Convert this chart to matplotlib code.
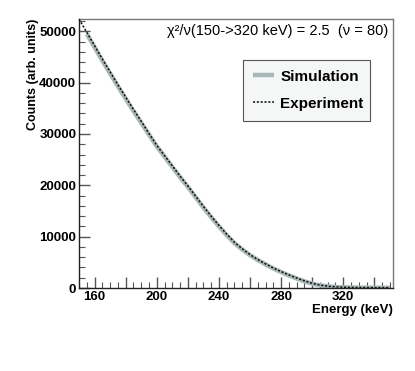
import matplotlib

matplotlib.use("Agg")

import matplotlib.pyplot as plt
from matplotlib.ticker import FuncFormatter, MultipleLocator

# values
ENERGY_EXP = [150, 155, 160, 165, 170, 175, 180, 185, 190, 195, 200, 205, 210, 215, 220,
              225, 230, 235, 240, 245, 250, 255, 260, 265, 270, 275, 280, 285, 290, 295,
              300, 305, 310, 315, 320, 325, 330, 335, 340, 345, 350]
COUNTS_EXP = [52400, 49800, 47200, 44600, 42100, 39600, 37200, 34800, 32500, 30100, 27800,
              25800, 23800, 21800, 19900, 17900, 15900, 14000, 12200, 10500, 8900, 7650, 6500,
              5550, 4700, 3900, 3200, 2550, 1950, 1400, 900, 580, 350, 230, 150, 120, 100, 90,
              80, 70, 60]
ENERGY_SIM = ENERGY_EXP[1:]
COUNTS_SIM = [49500, 46900, 44300, 41800, 39300, 36900, 34500, 32200, 29900, 27600,
              25600, 23600, 21600, 19700, 17700, 15700, 13800, 12000, 10300, 8750, 7500,
              6400, 5450, 4600, 3800, 3100, 2450, 1850, 1300, 850, 520, 320, 200, 130, 100,
              80, 70, 60, 50, 40]

X_LABELS = [160, 200, 240, 280, 320]

plt.rcParams["font.family"] = ["Liberation Sans", "DejaVu Sans"]

fig = plt.figure(figsize=(4.15, 3.71), dpi=100)
ax = fig.add_axes([0.1904, 0.2237, 0.7566, 0.7251])

ax.plot(ENERGY_SIM, COUNTS_SIM, color="#aab7b7", lw=3.2, solid_capstyle="butt",
        label="Simulation", zorder=2)
ax.plot(ENERGY_EXP, COUNTS_EXP, color="#111111", lw=1.1, ls=(0, (1.4, 1.1)),
        label="Experiment", zorder=3)

ax.set_xlim(150, 352)
ax.set_ylim(0, 52400)

ax.xaxis.set_major_locator(MultipleLocator(20))
ax.xaxis.set_minor_locator(MultipleLocator(5))
ax.xaxis.set_major_formatter(FuncFormatter(lambda v, p: f"{v:.0f}" if round(v) in X_LABELS else ""))
ax.yaxis.set_major_locator(MultipleLocator(10000))
ax.yaxis.set_minor_locator(MultipleLocator(2000))

ax.tick_params(which="both", direction="in", top=False, right=False, color="#555555")
ax.tick_params(which="major", length=8, width=1.0, labelsize=9.5, pad=2)
ax.tick_params(which="minor", length=4, width=0.8)
for lab in ax.get_xticklabels() + ax.get_yticklabels():
    lab.set_fontweight("bold")

for side in ["left", "bottom"]:
    ax.spines[side].set_color("#222222")
    ax.spines[side].set_linewidth(1.0)
for side in ["top", "right"]:
    ax.spines[side].set_color("#777777")
    ax.spines[side].set_linewidth(1.0)

ax.set_ylabel("Counts (arb. units)", fontweight="bold", fontsize=9, loc="top", labelpad=0)
ax.set_xlabel("Energy (keV)", fontweight="bold", fontsize=9.5, loc="right", labelpad=1)

ax.text(0.985, 0.955, "\u03c7\u00b2/\u03bd(150->320 keV) = 2.5  (\u03bd = 80)",
        transform=ax.transAxes, ha="right", va="center", fontsize=10.5)

leg = ax.legend(loc="upper left", bbox_to_anchor=(0.522, 0.610, 0.404, 0.238), mode="expand",
                fancybox=False, framealpha=1, handlelength=1.4, handletextpad=0.4,
                borderpad=0.65, labelspacing=0.85, borderaxespad=0,
                prop={"weight": "bold", "size": 11})
leg.get_frame().set_facecolor("#f5f7f7")
leg.get_frame().set_edgecolor("#555555")
leg.get_frame().set_linewidth(0.8)

fig.savefig("out.png", dpi=100)
